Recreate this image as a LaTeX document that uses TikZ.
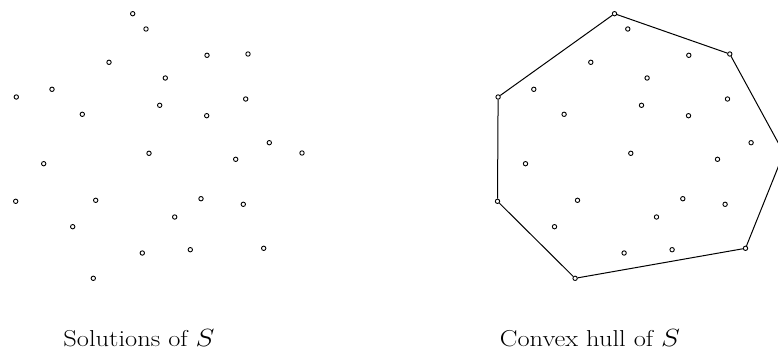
\documentclass[tikz,border=0pt]{standalone}
\begin{document}
\begin{tikzpicture}[x=1pt,y=-1pt,
  pt/.style={circle,draw=black,line width=0.9pt,inner sep=0pt,minimum size=4.4pt},
  hull/.style={draw=black,line width=1pt},
  caption/.style={anchor=base,font=\fontsize{23}{26}\selectfont,inner sep=0pt}]
\useasboundingbox (0,0) rectangle (778,356);
\foreach \x/\y [count=\i] in {
 132.7/13.7, 146/29, 207/55.3, 248/54, 109/62.3, 165.3/78, 52/89.3, 16.3/97,
 245.7/99, 159.7/105.3, 206.7/115.7, 82.3/114.3, 269.3/142.7, 302/153, 149/153.3,
 235.7/159.3, 43.7/163.7, 15.7/201.3, 95.7/200.3, 201/198.7, 243.3/204.3,
 174.7/217, 72.7/226.7, 142.3/253, 190.3/249.7, 263.7/248.3, 93.3/278.3}{
  \node[pt] (a\i) at (\x,\y) {};
  \node[pt] (b\i) at (\x+481.8,\y) {};
}
\draw[hull] (b1) -- (b4) -- (b14) -- (b26) -- (b27) -- (b18) -- (b8) -- (b1);
\node[caption] (capL) at (139,346) {\scalebox{1.15}[1]{Solutions of $S$}};
\node[caption] (capR) at (590,346) {\scalebox{1.15}[1]{Convex hull of $S$}};
\end{tikzpicture}
\end{document}
